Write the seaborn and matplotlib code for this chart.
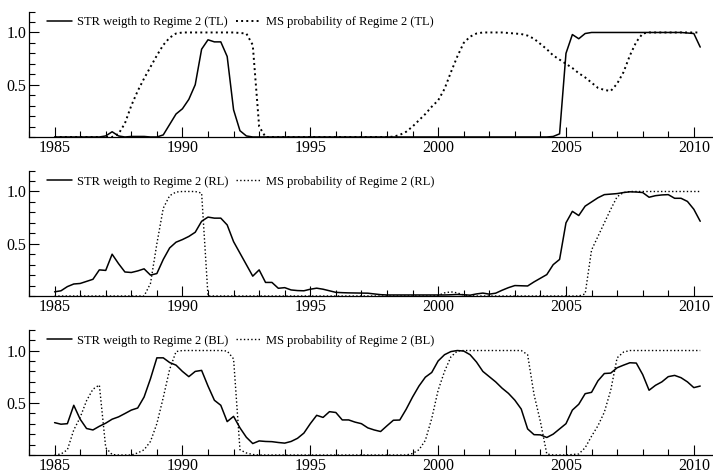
"""
Regime weights: smooth-transition (STR) weight vs Markov-switching (MS)
probability of Regime 2, for the TL, RL and BL series.
"""

import matplotlib
matplotlib.use("Agg")
import matplotlib.pyplot as plt
import matplotlib.ticker as mtick
import numpy as np
import pandas as pd
import seaborn as sns

# ─── Data (quarterly, 1985Q1 .. 2010Q2) ─────────────────────────────────────
quarters = np.arange(1985, 2010.5, 0.25)

tl_str = [
    0.0, 0.0, 0.0, 0.0,        # 1985
    0.0, 0.0, 0.0, 0.0,        # 1986
    0.01, 0.05, 0.01, 0.0,     # 1987
    0.005, 0.005, 0.005, 0.0,  # 1988
    0.0, 0.02, 0.12, 0.22,     # 1989
    0.27, 0.36, 0.50, 0.84,    # 1990
    0.93, 0.91, 0.91, 0.77,    # 1991
    0.26, 0.06, 0.01, 0.0,     # 1992
    0.0, 0.0, 0.0, 0.0,        # 1993
    0.0, 0.0, 0.0, 0.0,        # 1994
    0.0, 0.0, 0.0, 0.0,        # 1995
    0.0, 0.0, 0.0, 0.0,        # 1996
    0.0, 0.0, 0.0, 0.0,        # 1997
    0.0, 0.0, 0.0, 0.0,        # 1998
    0.0, 0.0, 0.0, 0.0,        # 1999
    0.0, 0.0, 0.0, 0.0,        # 2000
    0.0, 0.0, 0.0, 0.0,        # 2001
    0.0, 0.0, 0.0, 0.0,        # 2002
    0.0, 0.0, 0.0, 0.0,        # 2003
    0.0, 0.0, 0.005, 0.03,     # 2004
    0.80, 0.98, 0.94, 0.99,    # 2005
    1.0, 1.0, 1.0, 1.0,        # 2006
    1.0, 1.0, 1.0, 1.0,        # 2007
    1.0, 1.0, 1.0, 1.0,        # 2008
    1.0, 1.0, 1.0, 0.995,      # 2009
    0.99, 0.86,                # 2010
]
tl_ms = [
    0.0, 0.0, 0.0, 0.0,        # 1985
    0.0, 0.0, 0.0, 0.0,        # 1986
    0.0, 0.0, 0.03, 0.13,      # 1987
    0.30, 0.44, 0.56, 0.67,    # 1988
    0.78, 0.88, 0.95, 0.99,    # 1989
    1.0, 1.0, 1.0, 1.0,        # 1990
    1.0, 1.0, 1.0, 1.0,        # 1991
    1.0, 0.995, 0.99, 0.88,    # 1992
    0.10, 0.0, 0.0, 0.0,       # 1993
    0.0, 0.0, 0.0, 0.0,        # 1994
    0.0, 0.0, 0.0, 0.0,        # 1995
    0.0, 0.0, 0.0, 0.0,        # 1996
    0.0, 0.0, 0.0, 0.0,        # 1997
    0.0, 0.003, 0.02, 0.05,    # 1998
    0.10, 0.16, 0.22, 0.29,    # 1999
    0.35, 0.46, 0.62, 0.77,    # 2000
    0.90, 0.96, 0.99, 1.0,     # 2001
    1.0, 1.0, 1.0, 0.995,      # 2002
    0.99, 0.985, 0.97, 0.94,   # 2003
    0.89, 0.84, 0.78, 0.74,    # 2004
    0.70, 0.66, 0.61, 0.57,    # 2005
    0.52, 0.47, 0.45, 0.44,    # 2006
    0.51, 0.62, 0.78, 0.91,    # 2007
    0.99, 1.0, 1.0, 1.0,       # 2008
    1.0, 1.0, 1.0, 1.0,        # 2009
    1.0, 1.0,                  # 2010
]

rl_str = [
    0.04, 0.05, 0.09, 0.115,   # 1985
    0.12, 0.14, 0.16, 0.25,    # 1986
    0.245, 0.40, 0.31, 0.23,   # 1987
    0.225, 0.24, 0.26, 0.20,   # 1988
    0.215, 0.35, 0.46, 0.515,  # 1989
    0.54, 0.57, 0.61, 0.715,   # 1990
    0.755, 0.745, 0.745, 0.68, # 1991
    0.52, 0.41, 0.30, 0.19,    # 1992
    0.25, 0.13, 0.13, 0.074,   # 1993
    0.08, 0.058, 0.052, 0.05,  # 1994
    0.065, 0.075, 0.065, 0.05, # 1995
    0.035, 0.032, 0.03, 0.029, # 1996
    0.028, 0.027, 0.02, 0.013, # 1997
    0.01, 0.01, 0.01, 0.01,    # 1998
    0.01, 0.01, 0.01, 0.01,    # 1999
    0.01, 0.01, 0.012, 0.015,  # 2000
    0.012, 0.008, 0.02, 0.028, # 2001
    0.018, 0.027, 0.055, 0.08, # 2002
    0.10, 0.098, 0.096, 0.135, # 2003
    0.17, 0.205, 0.30, 0.35,   # 2004
    0.70, 0.81, 0.77, 0.86,    # 2005
    0.90, 0.94, 0.97, 0.975,   # 2006
    0.98, 0.99, 0.997, 0.995,  # 2007
    0.99, 0.945, 0.96, 0.967,  # 2008
    0.97, 0.935, 0.935, 0.905, # 2009
    0.83, 0.715,               # 2010
]
rl_ms = [
    0.0, 0.0, 0.0, 0.0,        # 1985
    0.0, 0.0, 0.0, 0.0,        # 1986
    0.0, 0.0, 0.0, 0.0,        # 1987
    0.0, 0.0, 0.0, 0.12,       # 1988
    0.50, 0.84, 0.96, 0.995,   # 1989
    1.0, 1.0, 1.0, 0.985,      # 1990
    0.0, 0.0, 0.0, 0.0,        # 1991
    0.0, 0.0, 0.0, 0.0,        # 1992
    0.0, 0.0, 0.0, 0.0,        # 1993
    0.0, 0.0, 0.0, 0.0,        # 1994
    0.0, 0.0, 0.0, 0.0,        # 1995
    0.0, 0.0, 0.0, 0.0,        # 1996
    0.0, 0.0, 0.0, 0.0,        # 1997
    0.0, 0.0, 0.0, 0.0,        # 1998
    0.0, 0.0, 0.0, 0.0,        # 1999
    0.005, 0.03, 0.04, 0.03,   # 2000
    0.01, 0.003, 0.0, 0.0,     # 2001
    0.0, 0.0, 0.0, 0.0,        # 2002
    0.0, 0.0, 0.0, 0.0,        # 2003
    0.0, 0.0, 0.0, 0.0,        # 2004
    0.0, 0.0, 0.0, 0.02,       # 2005
    0.44, 0.57, 0.70, 0.83,    # 2006
    0.95, 0.99, 1.0, 1.0,      # 2007
    1.0, 1.0, 1.0, 1.0,        # 2008
    1.0, 1.0, 1.0, 1.0,        # 2009
    1.0, 1.0,                  # 2010
]

bl_str = [
    0.31, 0.295, 0.30, 0.476,  # 1985
    0.343, 0.254, 0.24, 0.275, # 1986
    0.305, 0.343, 0.365, 0.397,  # 1987
    0.43, 0.45, 0.555, 0.73,   # 1988
    0.93, 0.93, 0.885, 0.86,   # 1989
    0.80, 0.75, 0.80, 0.81,    # 1990
    0.66, 0.524, 0.476, 0.32,  # 1991
    0.37, 0.26, 0.17, 0.11,    # 1992
    0.135, 0.13, 0.128, 0.12,  # 1993
    0.114, 0.13, 0.16, 0.21,   # 1994
    0.30, 0.38, 0.36, 0.415,   # 1995
    0.407, 0.336, 0.336, 0.315,  # 1996
    0.30, 0.26, 0.24, 0.225,   # 1997
    0.28, 0.333, 0.335, 0.438, # 1998
    0.555, 0.66, 0.745, 0.79,  # 1999
    0.90, 0.96, 0.99, 1.0,     # 2000
    0.995, 0.96, 0.89, 0.80,   # 2001
    0.75, 0.70, 0.64, 0.59,    # 2002
    0.525, 0.44, 0.25, 0.195,  # 2003
    0.193, 0.168, 0.20, 0.25,  # 2004
    0.30, 0.43, 0.486, 0.587,  # 2005
    0.60, 0.71, 0.78, 0.784,   # 2006
    0.835, 0.86, 0.883, 0.88,  # 2007
    0.77, 0.62, 0.667, 0.70,   # 2008
    0.75, 0.762, 0.74, 0.70,   # 2009
    0.645, 0.66,               # 2010
]
bl_ms = [
    0.0, 0.01, 0.05, 0.24,     # 1985
    0.36, 0.52, 0.63, 0.67,    # 1986
    0.07, 0.005, 0.0, 0.0,     # 1987
    0.0, 0.02, 0.05, 0.13,     # 1988
    0.30, 0.55, 0.82, 0.99,    # 1989
    1.0, 1.0, 1.0, 1.0,        # 1990
    1.0, 1.0, 1.0, 0.995,      # 1991
    0.92, 0.05, 0.02, 0.005,   # 1992
    0.0, 0.0, 0.0, 0.0,        # 1993
    0.0, 0.0, 0.0, 0.0,        # 1994
    0.0, 0.0, 0.0, 0.0,        # 1995
    0.0, 0.0, 0.0, 0.0,        # 1996
    0.0, 0.0, 0.0, 0.0,        # 1997
    0.0, 0.0, 0.0, 0.0,        # 1998
    0.015, 0.05, 0.14, 0.35,   # 1999
    0.62, 0.80, 0.94, 0.995,   # 2000
    1.0, 1.0, 1.0, 1.0,        # 2001
    1.0, 1.0, 1.0, 1.0,        # 2002
    1.0, 1.0, 0.96, 0.58,      # 2003
    0.32, 0.01, 0.0, 0.0,      # 2004
    0.0, 0.005, 0.01, 0.07,    # 2005
    0.18, 0.28, 0.41, 0.62,    # 2006
    0.93, 0.985, 1.0, 1.0,     # 2007
    1.0, 1.0, 1.0, 1.0,        # 2008
    1.0, 1.0, 1.0, 1.0,        # 2009
    1.0, 1.0,                  # 2010
]

# ─── Style ──────────────────────────────────────────────────────────────────
sns.set_theme(style="ticks", rc={
    "axes.edgecolor": "black",
    "xtick.color": "black",
    "ytick.color": "black",
    "text.color": "black",
    "axes.linewidth": 0.9,
})
plt.rcParams["font.family"] = ["Liberation Serif", "DejaVu Serif"]

# (tag, STR weights, MS probabilities, axes bottom, dotted line width)
panels = [
    ("TL", tl_str, tl_ms, 0.711, 1.4),
    ("RL", rl_str, rl_ms, 0.3755, 1.0),
    ("BL", bl_str, bl_ms, 0.040, 1.0),
]

fig = plt.figure(figsize=(7.13, 4.74), dpi=100)

for tag, str_w, ms_p, bottom, ms_lw in panels:
    ax = fig.add_axes([0.0407, bottom, 0.9593, 0.2646])
    df = pd.DataFrame({"date": quarters, "str": str_w, "ms": ms_p})

    sns.lineplot(data=df, x="date", y="str", ax=ax, color="black", lw=1.1,
                 label=f"STR weigth to Regime 2 ({tag})")
    sns.lineplot(data=df, x="date", y="ms", ax=ax, color="black", lw=ms_lw,
                 linestyle=":", label=f"MS probability of Regime 2 ({tag})")

    ax.set_xlim(1984.0, 2010.75)
    ax.set_ylim(0, 1.2)
    ax.set_xlabel("")
    ax.set_ylabel("")
    ax.set_xticks(range(1985, 2011, 5))
    ax.xaxis.set_minor_locator(mtick.MultipleLocator(1))
    ax.set_yticks([0.5, 1.0])
    ax.yaxis.set_minor_locator(mtick.MultipleLocator(0.1))
    ax.yaxis.set_major_formatter(mtick.FormatStrFormatter("%.1f"))
    ax.tick_params(which="both", direction="in", labelsize=11.5, width=0.8)
    ax.tick_params(which="major", length=7)
    ax.tick_params(which="minor", length=4)
    ax.tick_params(axis="y", pad=2)
    ax.tick_params(axis="x", pad=2)
    sns.despine(ax=ax)

    ax.legend(loc="center left", bbox_to_anchor=(0.026, 0.913), ncol=2,
              frameon=False, fontsize=9, handlelength=2.0, handletextpad=0.4,
              columnspacing=0.65, borderpad=0, borderaxespad=0)

fig.savefig("out.png", dpi=100)
